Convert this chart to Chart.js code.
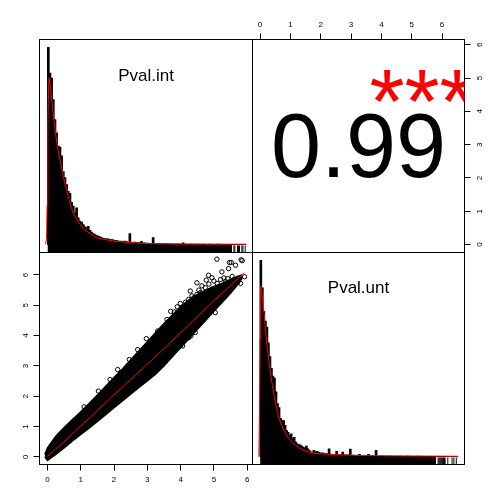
<!DOCTYPE html>
<html lang="en">
<head>
<meta charset="UTF-8">
<title>Pval.int / Pval.unt</title>
<style>
  html, body { margin: 0; padding: 0; background: #fff; }
  .wrap { position: relative; width: 504px; height: 504px; }
  .wrap canvas { position: absolute; left: 0; top: 0; }
</style>
<script src="https://cdn.jsdelivr.net/npm/chart.js"></script>
</head>
<body>
<div class="wrap">
  <canvas id="histInt" width="504" height="504"></canvas>
  <canvas id="corrBox" width="504" height="504"></canvas>
  <canvas id="scatter" width="504" height="504"></canvas>
  <canvas id="histUnt" width="504" height="504"></canvas>
</div>
<script>
// ---- data ----
const varNames = ['Pval.int', 'Pval.unt'];
const corrValue = '0.99';
const corrStars = '***';
const tickValues = [0, 1, 2, 3, 4, 5, 6];
const intRange = [-0.24, 6.16];
const untRange = [-0.25, 6.74];
const binWidth = 0.05;

// histogram heights, scaled so the tallest bar = 100
const intCounts = [
  100, 87, 84.5, 73.6, 63.4, 56.7, 50, 49.5, 45, 37,
  34, 30.5, 27, 26, 21.5, 19.5, 16.1, 18.6, 13.6, 11.9,
  11.4, 10.2, 9, 8.5, 9.3, 7.3, 6.3, 5.6, 5.1, 4.6,
  4.3, 3.9, 3.6, 3.2, 3.1, 2.9, 2.9, 2.6, 2.6, 2.4,
  2.2, 2.1, 1.9, 1.7, 1.8, 1.5, 1.8, 1.5, 1.3, 5.6,
  1.2, 1.1, 1.3, 1.0, 0.9, 1.0, 1.7, 0.8, 0.9, 0.7,
  0.8, 0.6, 0.7, 3.6, 0.5, 0.6, 0.5, 0.4, 0.5, 0.4,
  0.4, 0.5, 0.3, 0.4, 0.3, 0.4, 0.3, 0.3, 0.4, 0.3,
  0.3, 0.9, 0.3, 0.3, 0.2, 0.3, 0.3, 0.2, 0.3, 0.2,
  0.3, 0.2, 0.2, 0.3, 0.2, 0.2, 0.2, 0.3, 0.2, 0.2,
  0.2, 0.2, 0.3, 0.2, 0.2, 0.2, 0.2, 0.2, 0.2, 0.2,
  0.2, 0.2, 0.2, 0.2, 0.2, 0.2, 0.2, 0.2, 0.2
];
const untCounts = [
  100, 86, 74, 69, 66, 58, 51, 45, 41, 40,
  33, 27, 25, 19.5, 18.5, 18.4, 16, 13.3, 12.4, 10.8,
  11.6, 9.1, 9.9, 7.4, 6.5, 6.0, 6.0, 5.4, 4.9, 4.4,
  5.4, 4.0, 3.2, 2.3, 2.3, 3.2, 2.3, 2.7, 2.3, 2.0,
  1.8, 2.0, 1.6, 1.5, 1.4, 4.0, 1.3, 1.2, 1.1, 1.2,
  2.7, 1.0, 1.1, 0.9, 2.3, 0.9, 0.8, 0.9, 0.8, 3.8,
  0.7, 0.8, 0.6, 0.7, 0.6, 1.2, 0.5, 0.7, 0.5, 0.4,
  0.5, 1.2, 0.4, 0.4, 0.3, 0.4, 3.2, 0.3, 0.3, 0.3,
  0.3, 0.3, 0.2, 0.3, 0.3, 0.2, 0.3, 0.2, 0.2, 0.3,
  0.2, 0.2, 0.3, 0.2, 0.2, 0.2, 0.2, 0.3, 0.2, 0.2,
  0.2, 0.2, 0.2, 0.2, 0.3, 0.2, 0.2, 0.2, 0.2, 0.2,
  0.2, 0.2, 0.2, 0.2, 0.2, 0.2, 0.2, 0.2, 0.2, 0.2,
  0.2, 0.2, 0.2, 0.2, 0.2, 0.2, 0.2, 0.2, 0.2, 0.2
];

// density curves (same scale as the bars)
const intDensX = [-0.06, -0.03, -0.01, 0.01, 0.03, 0.05, 0.10, 0.15, 0.20, 0.25, 0.30, 0.38, 0.48, 0.58, 0.68, 0.78, 0.93, 1.08, 1.28, 1.49, 1.79, 2.09, 2.59, 3.09, 4.0, 5.0, 5.97];
const intDensY = [0.2, 3, 20, 60, 80, 84.5, 78, 70, 62, 55.5, 49.5, 42.6, 34.2, 27.4, 20.7, 15.6, 11.4, 8.0, 5.5, 3.4, 2.4, 1.6, 0.9, 0.5, 0.3, 0.25, 0.2];
const untDensX = [-0.06, -0.04, -0.02, 0.0, 0.02, 0.076, 0.13, 0.186, 0.24, 0.296, 0.35, 0.41, 0.46, 0.515, 0.57, 0.625, 0.735, 0.845, 0.955, 1.065, 1.175, 1.39, 1.61, 1.94, 2.49, 3.31, 4.5, 5.5, 6.53];
const untDensY = [0.2, 3, 20, 60, 87, 82, 73.6, 63.4, 54.9, 48.1, 41.3, 36.2, 31.1, 26.9, 22.6, 19.3, 15.0, 11.6, 9.1, 7.4, 5.7, 3.6, 2.3, 1.5, 1.0, 0.6, 0.4, 0.3, 0.2];

// rug: solid part ends here, then single ticks
const intRugEnd = 5.55;
const intRugTail = [5.60, 5.63, 5.71, 5.74, 5.77, 5.84, 5.87, 5.94];
const untRugEnd = 5.80;
const untRugTail = [5.87, 5.90, 5.93, 5.96, 5.99, 6.02, 6.05, 6.08, 6.10, 6.19, 6.33, 6.39, 6.47];

// scatter: dense cloud outline (upper / lower edge) + stray points + smoother
const bandX  = [-0.08, 0.0, 0.25, 0.5, 0.75, 1.0, 1.25, 1.5, 1.75, 2.0, 2.25, 2.5, 2.75, 3.0, 3.25, 3.5, 3.75, 4.0, 4.25, 4.5, 4.75, 5.0, 5.25, 5.5, 5.7, 5.85];
const bandHi = [0.08, 0.3, 0.68, 0.97, 1.23, 1.49, 1.76, 2.04, 2.33, 2.62, 2.9, 3.2, 3.5, 3.8, 4.1, 4.4, 4.68, 4.95, 5.18, 5.36, 5.5, 5.62, 5.73, 5.85, 5.95, 6.0];
const bandLo = [0.0, -0.12, 0.08, 0.3, 0.53, 0.74, 0.95, 1.17, 1.39, 1.62, 1.85, 2.07, 2.29, 2.51, 2.73, 3.0, 3.3, 3.6, 3.9, 4.2, 4.5, 4.8, 5.1, 5.4, 5.66, 5.9];
const strayX = [5.09, 5.82, 5.47, 5.65, 5.44, 5.24, 5.92, 4.84, 4.94, 4.77, 5.41, 5.70, 5.80, 4.64, 4.74, 4.29, 4.49, 4.94, 5.14, 4.34, 3.99, 5.04, 4.44, 4.24, 3.99, 2.97, 3.59, 4.04, 4.24,
                1.88, 2.11, 2.46, 2.71, 3.31, 3.81, 1.53, 1.10, 4.31, 4.76, 5.01, 5.71, 5.52, 5.85, 4.06, 4.49,
                4.55, 4.60, 4.85, 5.00, 5.10, 5.20, 5.30, 5.35, 5.55, 5.60, 4.40, 4.15, 3.90, 3.70];
const strayY = [6.52, 6.50, 6.41, 6.32, 6.21, 6.10, 5.94, 5.99, 5.91, 5.83, 5.88, 5.77, 5.72, 5.64, 5.58, 5.47, 5.36, 5.53, 5.58, 5.31, 5.06, 4.76, 4.10, 3.93, 3.66, 3.90, 4.53, 4.92, 5.19,
                2.55, 2.88, 3.21, 3.54, 4.15, 4.78, 2.17, 1.65, 3.99, 4.70, 4.92, 5.75, 6.41, 6.47, 3.66, 5.74,
                5.50, 5.42, 5.70, 5.80, 5.72, 5.85, 5.90, 5.78, 5.95, 5.85, 5.25, 5.10, 4.95, 4.80];
const smoothX = [0, 0.5, 1, 1.5, 2, 2.5, 3, 3.5, 4, 4.5, 5, 5.5, 5.92];
const smoothY = [0.02, 0.5, 1.02, 1.53, 2.05, 2.55, 3.06, 3.57, 4.1, 4.62, 5.15, 5.65, 6.07];

// ---- drawing ----
const FONT = "'Liberation Sans', Arial, Helvetica, sans-serif";
Chart.defaults.font.family = FONT;
Chart.defaults.font.size = 8;
Chart.defaults.color = '#000';
Chart.defaults.animation = false;
Chart.defaults.plugins.legend.display = false;
Chart.defaults.plugins.tooltip.enabled = false;

const pairs = (xs, ys) => xs.map((x, i) => ({ x: x, y: ys[i] }));

const panelBox = {
  id: 'panelBox',
  afterDraw(chart) {
    const a = chart.chartArea, ctx = chart.ctx;
    ctx.save();
    ctx.strokeStyle = '#000';
    ctx.lineWidth = 1;
    ctx.strokeRect(a.left, a.top, a.right - a.left, a.bottom - a.top);
    ctx.restore();
  }
};

const panelText = {
  id: 'panelText',
  afterDraw(chart, args, opts) {
    const a = chart.chartArea, ctx = chart.ctx;
    ctx.save();
    ctx.beginPath();
    ctx.rect(a.left, a.top, a.right - a.left, a.bottom - a.top);
    ctx.clip();
    (opts.items || []).forEach(it => {
      ctx.font = it.size + 'px ' + FONT;
      ctx.fillStyle = it.color || '#000';
      ctx.textAlign = 'center';
      ctx.textBaseline = 'alphabetic';
      ctx.fillText(it.text, a.left + it.fx * (a.right - a.left), a.top + it.fy * (a.bottom - a.top));
    });
    ctx.restore();
  }
};

function axisScale(range, position, size, pad, rotated) {
  return {
    type: 'linear',
    position: position,
    min: range[0],
    max: range[1],
    afterBuildTicks: s => { s.ticks = tickValues.map(v => ({ value: v })); },
    afterFit: s => {
      if (position === 'left' || position === 'right') s.width = size; else s.height = size;
    },
    grid: { drawOnChartArea: false, drawTicks: true, tickLength: 6, color: '#000', lineWidth: 1 },
    border: { display: true, color: '#000' },
    ticks: rotated
      ? { padding: pad, autoSkip: false, minRotation: 90, maxRotation: 90, crossAlign: 'center', color: '#000' }
      : { padding: pad, autoSkip: false, maxRotation: 0, color: '#000' }
  };
}

function histChart(id, counts, densX, densY, rugEnd, rugTail, range, label, pad, labelY) {
  const bars = counts.map((c, i) => ({ x: (i + 0.5) * binWidth, y: c }));
  new Chart(document.getElementById(id), {
    type: 'bar',
    data: {
      datasets: [
        { type: 'line', data: pairs(densX, densY), borderColor: '#ff0000', borderWidth: 1, pointRadius: 0, order: 0 },
        { type: 'bar', data: bars, backgroundColor: '#000', barThickness: 2, order: 2 },
        { type: 'line', data: [{ x: 0, y: 0 }, { x: rugEnd, y: 0 }], fill: 'start',
          backgroundColor: '#000', borderWidth: 0, pointRadius: 0, order: 3 },
        { type: 'scatter', data: rugTail.map(x => ({ x: x, y: -2.2 })), pointStyle: 'line',
          pointRotation: 90, pointRadius: 3.5, pointBorderWidth: 1, pointBorderColor: '#000', order: 3 }
      ]
    },
    options: {
      responsive: false,
      layout: { padding: pad },
      scales: {
        x: { type: 'linear', display: false, min: range[0], max: range[1], offset: false },
        y: { type: 'linear', display: false, min: -4, max: 104 }
      },
      plugins: { panelText: { items: [{ text: label, fx: 0.5, fy: labelY, size: 17 }] } }
    },
    plugins: [panelBox, panelText]
  });
}

histChart('histInt', intCounts, intDensX, intDensY, intRugEnd, intRugTail, intRange, varNames[0],
  { left: 39.5, top: 39.5, right: 251.5, bottom: 251.5 }, 0.193);
histChart('histUnt', untCounts, untDensX, untDensY, untRugEnd, untRugTail, untRange, varNames[1],
  { left: 252.5, top: 252.5, right: 39.5, bottom: 39.5 }, 0.19);

// upper-right: correlation text with top / right axes
new Chart(document.getElementById('corrBox'), {
  type: 'scatter',
  data: { datasets: [] },
  options: {
    responsive: false,
    layout: { padding: { left: 252.5, top: 0, right: 0, bottom: 251.5 } },
    scales: {
      x: axisScale(untRange, 'top', 39.5, 4, false),
      y: axisScale(intRange, 'right', 39.5, 7, true)
    },
    plugins: {
      panelText: { items: [
        { text: corrValue, fx: 0.5, fy: 0.647, size: 90 },
        { text: corrStars, fx: 0.8, fy: 0.4375, size: 90, color: '#ff0000' }
      ] }
    }
  },
  plugins: [panelBox, panelText]
});

// lower-left: scatter
new Chart(document.getElementById('scatter'), {
  type: 'scatter',
  data: {
    datasets: [
      { type: 'line', data: pairs(smoothX, smoothY), borderColor: '#ff0000', borderWidth: 1, pointRadius: 0, order: 0 },
      { data: pairs(strayX, strayY), pointRadius: 2.2, pointBorderWidth: 1, pointBorderColor: '#000',
        pointBackgroundColor: 'rgba(0,0,0,0)', order: 1 },
      { type: 'line', data: pairs(bandX, bandLo), borderColor: '#000', borderWidth: 1.5, pointRadius: 0, order: 2 },
      { type: 'line', data: pairs(bandX, bandHi), borderColor: '#000', borderWidth: 1.5, pointRadius: 0,
        fill: '-1', backgroundColor: '#000', order: 2 }
    ]
  },
  options: {
    responsive: false,
    layout: { padding: { left: 0, top: 252.5, right: 251.5, bottom: 0 } },
    scales: {
      x: axisScale(intRange, 'bottom', 39.5, 4, false),
      y: axisScale(untRange, 'left', 39.5, 5.5, true)
    }
  },
  plugins: [panelBox]
});
</script>
</body>
</html>
